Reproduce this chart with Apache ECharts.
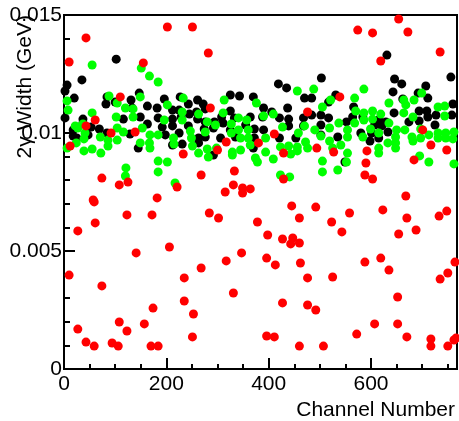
<!DOCTYPE html>
<html>
<head>
<meta charset="utf-8">
<script src="https://cdn.jsdelivr.net/npm/echarts@6/dist/echarts.min.js"></script>
<style>
  html, body { margin: 0; padding: 0; background: #fff; }
  #chartBox { width: 459px; height: 421px; }
</style>
</head>
<body>
<div id="chartBox"></div>
<script>
// [channel, width in GeV]
const blackPoints = [
  [102,0.01313],[35,0.01225],[6,0.01203],[2,0.01178],[20,0.01148],[147,0.01169],[84,0.01153],[82,0.01123],
  [100,0.01131],[131,0.01140],[133,0.01106],[163,0.01114],[2,0.01064],[37,0.01059],[116,0.01059],[149,0.01068],
  [163,0.01038],[18,0.01013],[37,0.01042],[53,0.01025],[69,0.01017],[84,0.01000],[47,0.00992],[25,0.00979],
  [129,0.00996],[145,0.00936],[18,0.00987],
  [196,0.01144],[227,0.01153],[243,0.01123],[261,0.01140],[272,0.01123],[325,0.01161],[343,0.01157],[370,0.01153],
  [182,0.01106],[212,0.01097],[225,0.01097],[245,0.01080],[259,0.01089],[276,0.01102],[308,0.01068],[325,0.01093],
  [184,0.01064],[212,0.01059],[229,0.01068],[261,0.01059],[276,0.01047],[294,0.01047],[311,0.01042],[333,0.01064],
  [364,0.01068],[192,0.01025],[212,0.01030],[243,0.01030],[274,0.01017],[292,0.01021],[325,0.01013],[355,0.01034],
  [198,0.00992],[225,0.01000],[263,0.00979],[276,0.00983],[306,0.00979],[335,0.00983],[212,0.00949],[231,0.00953],
  [263,0.00958],[292,0.00907],[370,0.00936],
  [503,0.01233],[419,0.01208],[435,0.01191],[470,0.01148],[484,0.01148],[531,0.01161],[437,0.01106],[517,0.01131],
  [390,0.01106],[406,0.01089],[388,0.01068],[421,0.01064],[439,0.01059],[468,0.01064],[484,0.01076],[502,0.01076],
  [517,0.01064],[372,0.01017],[390,0.01013],[439,0.01030],[468,0.01030],[502,0.01034],[552,0.01047],[372,0.00979],
  [421,0.00979],[453,0.00979],[502,0.00992],[535,0.00983],[549,0.00877],
  [631,0.01330],[756,0.01237],[646,0.01229],[660,0.01208],[643,0.01174],[692,0.01169],[707,0.01199],[711,0.01148],
  [662,0.01144],[566,0.01110],[760,0.01123],[694,0.01093],[709,0.01093],[727,0.01076],[645,0.01085],[564,0.01068],
  [584,0.01068],[615,0.01055],[629,0.01047],[674,0.01047],[711,0.01068],[758,0.01076],[607,0.01034],[621,0.01030],
  [633,0.01004],[694,0.01051],[725,0.01034],[580,0.01000],[601,0.01000],[615,0.00979],[598,0.00966]
]

const greenPoints = [
  [55,0.01288],[151,0.01275],[167,0.01241],[6,0.01136],[88,0.01157],[149,0.01153],[104,0.01127],[8,0.01097],
  [55,0.01085],[120,0.01106],[135,0.01102],[102,0.01068],[135,0.01068],[22,0.01030],[27,0.01021],[37,0.01038],
  [41,0.01000],[71,0.00983],[104,0.01021],[116,0.01004],[153,0.01021],[168,0.00992],[6,0.00936],[24,0.00958],
  [39,0.00975],[39,0.00924],[55,0.00932],[72,0.00915],[86,0.00970],[86,0.00945],[104,0.00970],[149,0.00958],
  [167,0.00958],[168,0.00936],[121,0.00852],[120,0.00818],
  [184,0.01216],[233,0.01148],[313,0.01140],[202,0.01119],[231,0.01089],[263,0.01080],[311,0.01085],[196,0.01055],
  [231,0.01055],[280,0.01047],[296,0.01034],[327,0.01038],[341,0.01064],[357,0.01055],[184,0.00992],[247,0.01008],
  [249,0.00979],[214,0.00979],[215,0.00953],[251,0.00945],[276,0.01004],[327,0.01000],[341,0.01013],[360,0.01013],
  [345,0.00979],[360,0.00979],[263,0.00915],[280,0.00932],[282,0.00898],[298,0.00936],[329,0.00919],[329,0.00907],
  [345,0.00928],[184,0.00881],[202,0.00877],[184,0.00835],[217,0.00788],
  [456,0.01178],[488,0.01186],[376,0.01127],[521,0.01140],[505,0.01110],[409,0.01080],[390,0.01072],[470,0.01030],
  [427,0.01025],[519,0.01021],[537,0.01042],[554,0.01013],[458,0.01000],[490,0.01013],[502,0.00987],[554,0.00983],
  [394,0.00979],[364,0.00949],[423,0.00941],[439,0.00945],[456,0.00941],[472,0.00962],[476,0.00936],[519,0.00966],
  [541,0.00949],[525,0.00936],[394,0.00919],[443,0.00911],[456,0.00924],[409,0.00890],[374,0.00894],[378,0.00877],
  [554,0.00915],[552,0.00877],[505,0.00881],[505,0.00835],[535,0.00843],[423,0.00822],[441,0.00814],
  [586,0.01186],[568,0.01148],[635,0.01127],[664,0.01140],[684,0.01140],[699,0.01169],[668,0.01119],[731,0.01110],
  [744,0.01114],[744,0.01072],[570,0.01093],[586,0.01085],[603,0.01093],[619,0.01080],[664,0.01085],[682,0.01068],
  [603,0.01059],[568,0.01042],[586,0.01055],[635,0.01042],[599,0.01017],[615,0.01000],[650,0.01013],[666,0.01013],
  [697,0.01017],[713,0.00992],[731,0.01000],[746,0.01000],[762,0.01004],[584,0.00983],[648,0.00983],[680,0.00983],
  [697,0.00979],[731,0.00979],[746,0.00979],[760,0.00975],[633,0.00958],[648,0.00958],[682,0.00966],[615,0.00936],
  [648,0.00936],[615,0.00915],[695,0.00903],[713,0.00877],[762,0.00869]
]

const redPoints = [
  [43,0.01403],[10,0.01301],[155,0.01297],[110,0.01153],[61,0.01055],[43,0.01030],[92,0.01000],[139,0.01004],
  [12,0.00945],[74,0.00809],[108,0.00780],[125,0.00792],[57,0.00716],[182,0.00725],[202,0.01449],[251,0.01449],
  [282,0.01339],[286,0.01106],[411,0.00996],[317,0.00962],[380,0.00958],[429,0.00915],[233,0.00911],[300,0.00928],
  [476,0.01089],[268,0.00822],[333,0.00839],[221,0.00771],[429,0.00805],[331,0.00780],[315,0.00750],[349,0.00767],
  [364,0.00763],[349,0.00746],[654,0.01483],[574,0.01436],[603,0.01424],[672,0.01428],[735,0.01343],[619,0.01305],
  [539,0.01153],[701,0.01013],[717,0.00949],[748,0.00928],[494,0.00936],[527,0.00919],[592,0.00924],[684,0.00886],
  [590,0.00873],[588,0.00822],[603,0.00805],[668,0.00733],[10,0.00398],[27,0.00585],[59,0.00708],[61,0.00619],
  [123,0.00653],[172,0.00653],[141,0.00492],[74,0.00352],[174,0.00258],[27,0.00169],[108,0.00199],[123,0.00161],
  [157,0.00191],[43,0.00114],[59,0.00097],[94,0.00110],[106,0.00097],[170,0.00097],[184,0.00097],[284,0.00661],
  [302,0.00640],[378,0.00623],[398,0.00568],[445,0.00691],[460,0.00640],[427,0.00551],[447,0.00555],[443,0.00530],
  [460,0.00534],[206,0.00517],[317,0.00458],[347,0.00492],[396,0.00470],[413,0.00441],[462,0.00449],[268,0.00428],
  [235,0.00386],[476,0.00386],[331,0.00322],[235,0.00288],[427,0.00280],[476,0.00271],[253,0.00233],[251,0.00136],
  [396,0.00140],[411,0.00136],[460,0.00097],[492,0.00686],[623,0.00674],[733,0.00648],[748,0.00669],[670,0.00640],
  [523,0.00623],[558,0.00661],[543,0.00581],[654,0.00572],[688,0.00589],[588,0.00453],[619,0.00470],[635,0.00419],
  [764,0.00453],[750,0.00407],[735,0.00381],[525,0.00390],[652,0.00305],[492,0.00250],[607,0.00191],[652,0.00191],
  [572,0.00148],[670,0.00136],[717,0.00127],[766,0.00131],[762,0.00123],[507,0.00097],[717,0.00097],[750,0.00097]
]

const xMajorTicks = [0, 200, 400, 600]
const xTitle = 'Channel Number'
const yTitle = '2γ Width (GeV)'

const font = "'Liberation Sans', Arial, sans-serif"

const chart = echarts.init(document.getElementById('chartBox'), null, { renderer: 'canvas' })

const dotSeries = (points, color) => ({
  type: 'scatter',
  xAxisIndex: 0,
  yAxisIndex: 0,
  data: points,
  symbol: 'circle',
  symbolSize: 9,
  itemStyle: { color: color, opacity: 1 },
  silent: true,
  animation: false
})

var option = {
  backgroundColor: '#fff',
  grid: {
    left: 64, right: 2, top: 15, bottom: 52,
    show: true, borderColor: '#000', borderWidth: 2,
    containLabel: false, outerBoundsMode: 'none'
  },
  xAxis: [
    {
      // major ticks + labels
      type: 'value', min: 0, max: 768, interval: 200,
      axisLine: { show: true, lineStyle: { color: '#000', width: 2 } },
      axisTick: { show: true, inside: true, length: 11, lineStyle: { color: '#000', width: 2 } },
      axisLabel: {
        color: '#000', fontSize: 21, fontFamily: font, margin: 5,
        showMaxLabel: false,
        formatter: v => xMajorTicks.includes(v) ? String(v) : ''
      },
      splitLine: { show: false }
    },
    {
      // minor ticks every 50
      type: 'value', min: 0, max: 768, interval: 50, position: 'bottom',
      axisLine: { show: false },
      axisTick: { show: true, inside: true, length: 5, lineStyle: { color: '#000', width: 2 } },
      axisLabel: { show: false },
      splitLine: { show: false }
    }
  ],
  yAxis: {
    type: 'value', min: 0, max: 0.015, interval: 0.005,
    axisLine: { show: true, lineStyle: { color: '#000', width: 2 } },
    axisTick: { show: true, inside: true, length: 11, lineStyle: { color: '#000', width: 2 } },
    minorTick: { show: true, splitNumber: 5, length: 6, lineStyle: { color: '#000', width: 2 } },
    axisLabel: { color: '#000', fontSize: 21, fontFamily: font, margin: 2 },
    splitLine: { show: false }
  },
  graphic: [
    {
      type: 'text', x: 455, y: 410, silent: true,
      style: { text: xTitle, font: '21px ' + font, fill: '#000', align: 'right', verticalAlign: 'middle' }
    },
    {
      type: 'text', x: 25, y: 15, rotation: Math.PI / 2, silent: true,
      style: { text: yTitle, font: '21px ' + font, fill: '#000', align: 'right', verticalAlign: 'middle' }
    }
  ],
  series: [
    dotSeries(blackPoints, '#000000'),
    dotSeries(greenPoints, '#00ff00'),
    dotSeries(redPoints, '#ff0000')
  ]
}

chart.setOption(option)
</script>
</body>
</html>
